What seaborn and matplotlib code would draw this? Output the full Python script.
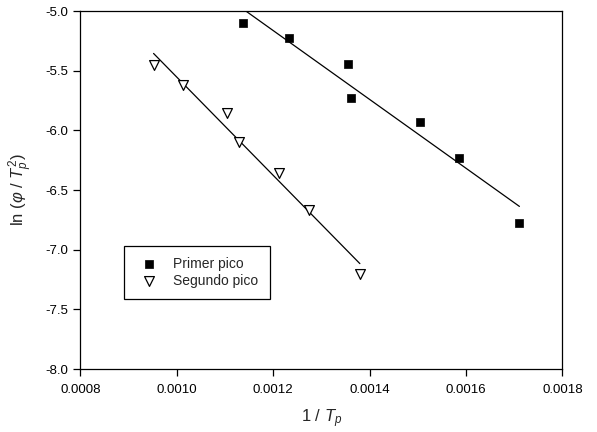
import numpy as np
import pandas as pd
import matplotlib
matplotlib.use("Agg")
import matplotlib.pyplot as plt
from matplotlib.ticker import FormatStrFormatter, MultipleLocator
import seaborn as sns

# Data
x_primer = [0.001137, 0.001234, 0.001356, 0.001361, 0.001505, 0.001586, 0.001711]
y_primer = [-5.103, -5.226, -5.447, -5.726, -5.932, -6.234, -6.773]
x_segundo = [0.000952, 0.001014, 0.001104, 0.001129, 0.001212, 0.001274, 0.001380]
y_segundo = [-5.452, -5.617, -5.857, -6.097, -6.359, -6.667, -7.205]
labels = ["Primer pico", "Segundo pico"]

sns.set_theme(style="white")
plt.rcParams['font.family'] = ['Liberation Sans', 'DejaVu Sans']
plt.rcParams['axes.unicode_minus'] = False
plt.rcParams['mathtext.fontset'] = 'custom'
plt.rcParams['mathtext.rm'] = 'Liberation Sans'
plt.rcParams['mathtext.it'] = 'Liberation Sans:italic'

df1 = pd.DataFrame({"x": x_primer, "y": y_primer})
df2 = pd.DataFrame({"x": x_segundo, "y": y_segundo})

fig = plt.figure(figsize=(5.97, 4.32), dpi=100)
ax = fig.add_axes([0.1345, 0.1458, 0.8074, 0.8287])

sns.regplot(data=df1, x="x", y="y", scatter=False, ci=None, truncate=True,
            line_kws=dict(color="black", lw=0.9), ax=ax)
sns.regplot(data=df2, x="x", y="y", scatter=False, ci=None, truncate=True,
            line_kws=dict(color="black", lw=0.9), ax=ax)
sns.scatterplot(data=df1, x="x", y="y", marker="s", s=30, color="black",
                edgecolor="black", linewidth=0.5, label=labels[0], ax=ax, zorder=3)
sns.scatterplot(data=df2, x="x", y="y", marker="v", s=50, facecolor="white",
                edgecolor="black", linewidth=0.9, label=labels[1], ax=ax, zorder=3)

ax.set_xlim(0.0008, 0.0018)
ax.set_ylim(-8.0, -5.0)
ax.xaxis.set_major_locator(MultipleLocator(0.0002))
ax.yaxis.set_major_locator(MultipleLocator(0.5))
ax.xaxis.set_major_formatter(FormatStrFormatter('%.4f'))
ax.yaxis.set_major_formatter(FormatStrFormatter('%.1f'))
ax.tick_params(axis='both', which='major', direction='out', length=5, width=0.9,
               labelsize=9.5, colors='black', bottom=True, left=True, top=False, right=False)
ax.tick_params(axis='x', pad=6)
for sp in ax.spines.values():
    sp.set_color('black')
    sp.set_linewidth(0.9)

ax.set_xlabel(r'1 / $T_p$', fontsize=12, labelpad=8)
ax.set_ylabel(r'ln ($\varphi$ / $T_p^2$)', fontsize=12, labelpad=8)

leg = ax.legend(loc='lower left', bbox_to_anchor=(0.091, 0.195), fontsize=10,
                frameon=True, fancybox=False, edgecolor='black', framealpha=1,
                borderpad=0.8, handletextpad=0.75, labelspacing=0.25, borderaxespad=0)
leg.get_frame().set_linewidth(0.9)

fig.savefig("out.png", dpi=100)
